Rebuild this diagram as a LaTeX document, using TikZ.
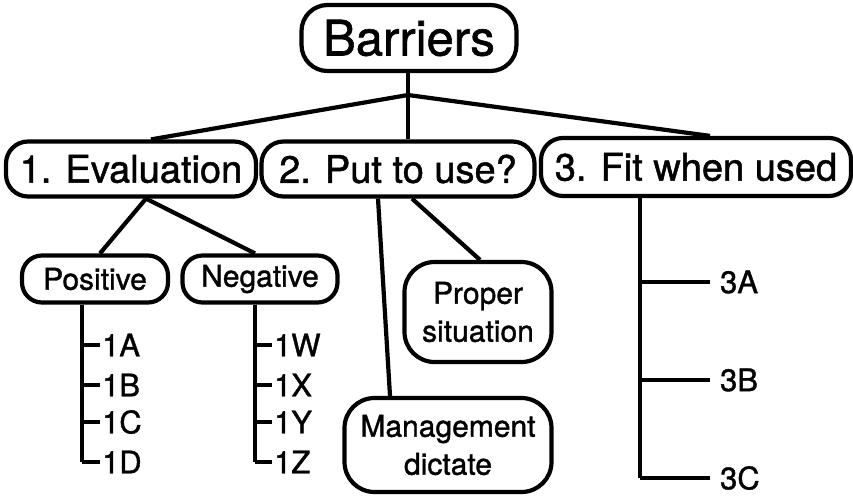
\documentclass[tikz,border=0pt]{standalone}
\usepackage{fontspec}
\setmainfont{TeX Gyre Heros}[FakeBold=1.2]
\begin{document}
\begin{tikzpicture}[x=1pt, y=-1pt, line width=4.2pt,
    box/.style={draw, rounded corners=26pt, inner sep=0pt, align=center},
    leaf/.style={anchor=west, inner sep=0pt, font=\fontsize{31}{37}\selectfont}]
\useasboundingbox (0,0) rectangle (853,495);

\node[box, minimum width=215, minimum height=66, font=\fontsize{49}{54}\selectfont] (root) at (409,38) {Barriers};
\node[box, minimum width=250, minimum height=55, font=\fontsize{38}{44}\selectfont, rounded corners=22pt] (ev) at (131,169) {1. Evaluation};
\node[box, minimum width=273, minimum height=55, font=\fontsize{38}{44}\selectfont, rounded corners=22pt] (put) at (398,169) {2. Put to use?};
\node[box, minimum width=310, minimum height=58, font=\fontsize{38}{44}\selectfont, rounded corners=22pt] (fit) at (696,167) {3. Fit when used};
\node[box, minimum width=146, minimum height=47, font=\fontsize{30}{37}\selectfont, rounded corners=20pt] (pos) at (95,279) {Positive};
\node[box, minimum width=155, minimum height=47, font=\fontsize{30}{37}\selectfont, rounded corners=20pt] (neg) at (260,279) {Negative};
\node[box, minimum width=147, minimum height=100, font=\fontsize{30}{38}\selectfont, rounded corners=30pt] (prop) at (478,312) {Proper\\situation};
\node[box, minimum width=207, minimum height=94, font=\fontsize{30}{38}\selectfont, rounded corners=30pt] (mgmt) at (448,445) {Management\\dictate};

\coordinate (j) at (408,95);
\draw (root.south -| j) -- (j);
\draw (j) -- ([xshift=20]ev.north);
\draw (j) -- (j |- put.north);
\draw (j) -- ([xshift=14]fit.north);

\draw ([xshift=15]ev.south) -- ([xshift=5]pos.north);
\draw ([xshift=15]ev.south) -- ([xshift=-5]neg.north);
\draw ([xshift=-20]put.south) -- ([xshift=-58]mgmt.north);
\draw ([xshift=14]put.south) -- ([xshift=2]prop.north);

\foreach \n/\t/\y in {a/1A/345, b/1B/385, c/1C/422, d/1D/462}
{
    \node[leaf] (p\n) at (100,\y) {\t};
    \draw ([xshift=-13]pos.south |- p\n.west) -- (p\n.west);
}
\draw ([xshift=-13]pos.south) -- ([xshift=-13]pos.south |- pd.west);

\foreach \n/\t/\y in {a/1W/345, b/1X/385, c/1Y/422, d/1Z/462}
{
    \node[leaf] (n\n) at (272,\y) {\t};
    \draw ([xshift=-5]neg.south |- n\n.west) -- (n\n.west);
}
\draw ([xshift=-5]neg.south) -- ([xshift=-5]neg.south |- nd.west);

\foreach \n/\t/\y in {a/3A/282, b/3B/380, c/3C/478}
{
    \node[leaf] (f\n) at (718,\y) {\t};
    \draw ([xshift=-56]fit.south |- f\n.west) -- ([xshift=-8]f\n.west);
}
\draw ([xshift=-56]fit.south) -- ([xshift=-56]fit.south |- fc.west);
\end{tikzpicture}
\end{document}
